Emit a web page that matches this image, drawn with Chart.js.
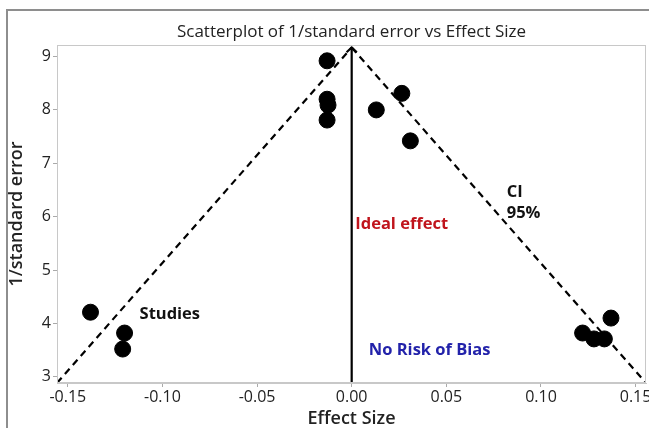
<!DOCTYPE html>
<html>
<head>
<meta charset="utf-8">
<script src="https://cdn.jsdelivr.net/npm/chart.js@4.4.1/dist/chart.umd.min.js"></script>
<style>
	html, body { margin: 0; padding: 0; background: #fff; overflow: hidden; }
	#wrap { position: relative; width: 649px; height: 428px; overflow: hidden; }
	#frame { position: absolute; left: 6px; top: 9px; width: 700px; height: 500px; border: 2px solid #8e8e8e; }
	#myChart { position: absolute; left: 0; top: 0; }
</style>
</head>
<body>
<div id="wrap">
	<div id="frame"></div>
	<!-- a little wider than the window: the last tick label runs off the edge, as in the original -->
	<canvas id="myChart" width="655" height="428"></canvas>
</div>
<script>
// studies (effect size, 1/standard error)
const effectSize = [-0.138, -0.120, -0.121, -0.013, -0.013, -0.0125, -0.013, 0.013, 0.0265, 0.031, 0.122, 0.128, 0.1335, 0.137];
const invSE      = [4.21, 3.82, 3.52, 8.92, 8.20, 8.09, 7.81, 8.00, 8.31, 7.42, 3.82, 3.71, 3.71, 4.10];

// funnel (95% CI) and ideal-effect line
const ciX = [-0.1557, 0, 0.1555];
const ciY = [2.884, 9.17, 2.884];
const arrowX = [-0.0027, 0, 0.0027];
const arrowY = [9.08, 9.17, 9.08];

const xTicks = [-0.15, -0.10, -0.05, 0.00, 0.05, 0.10, 0.15];
const yTicks = [3, 4, 5, 6, 7, 8, 9];

const chartTitle = "Scatterplot of 1/standard error vs Effect Size";

const notes = [
	{ text: "Studies", x: -0.0961, y: 4.17, color: "#111", align: "center" },
	{ text: "Ideal effect", x: 0.0264, y: 5.86, color: "#c0141c", align: "center" },
	{ text: "CI", x: 0.0819, y: 6.46, color: "#111", align: "left" },
	{ text: "95%", x: 0.0819, y: 6.07, color: "#111", align: "left" },
	{ text: "No Risk of Bias", x: 0.0412, y: 3.50, color: "#2222aa", align: "center" }
];

const FONT = "'Open Sans', 'Noto Sans', sans-serif";

const areaBorder = {
	id: "areaBorder",
	afterDatasetsDraw(chart) {
		const a = chart.chartArea, ctx = chart.ctx;
		ctx.save();
		ctx.strokeStyle = "#c8c8c8";
		ctx.lineWidth = 1;
		ctx.strokeRect(a.left + 0.5, a.top + 0.5, a.right - a.left - 1, a.bottom - a.top - 1);
		ctx.restore();
	}
};

// title centred over the plot area, plus the text notes
const labels = {
	id: "labels",
	afterDraw(chart) {
		const ctx = chart.ctx, xs = chart.scales.x, ys = chart.scales.y, a = chart.chartArea;
		ctx.save();
		ctx.textBaseline = "middle";
		ctx.textAlign = "center";
		ctx.fillStyle = "#222";
		ctx.font = "17px " + FONT;
		ctx.fillText(chartTitle, (a.left + a.right) / 2, a.top - 13);

		ctx.font = "bold 16.5px " + FONT;
		notes.forEach(n => {
			ctx.fillStyle = n.color;
			ctx.textAlign = n.align;
			ctx.fillText(n.text, xs.getPixelForValue(n.x), ys.getPixelForValue(n.y));
		});
		ctx.restore();
	}
};

function pts(xa, ya) {
	return xa.map((v, i) => ({ x: v, y: ya[i] }));
}

function lineSet(data, dash) {
	return {
		data: data,
		showLine: true,
		borderColor: "#000",
		borderWidth: 2.2,
		borderDash: dash,
		pointRadius: 0,
		fill: false
	};
}

const data = {
	datasets: [
		{
			label: "Studies",
			data: pts(effectSize, invSE),
			backgroundColor: "#000",
			borderColor: "#000",
			pointRadius: 8,
			pointHoverRadius: 8
		},
		lineSet(pts(ciX.slice(0, 2), ciY.slice(0, 2)), [7, 5]),
		lineSet(pts(ciX.slice(1), ciY.slice(1)), [7, 5]),
		lineSet([{ x: 0, y: ciY[0] }, { x: 0, y: ciY[1] }], []),
		lineSet(pts(arrowX, arrowY), [])
	]
};

const config = {
	type: "scatter",
	data: data,
	options: {
		responsive: false,
		animation: false,
		layout: { padding: { top: 45, right: 3 } },
		plugins: {
			legend: { display: false },
			tooltip: { enabled: false },
			title: { display: false }
		},
		scales: {
			x: {
				type: "linear",
				min: -0.1557,
				max: 0.1555,
				afterBuildTicks: s => { s.ticks = xTicks.map(v => ({ value: v })); },
				afterFit: s => { s.height = 45; },
				ticks: {
					color: "#222",
					font: { family: FONT, size: 16 },
					padding: 1,
					maxRotation: 0,
					callback: v => v.toFixed(2)
				},
				grid: { drawOnChartArea: false, tickLength: 4, color: "#aaa" },
				border: { color: "#c8c8c8" },
				title: {
					display: true,
					text: "Effect Size",
					color: "#222",
					font: { family: FONT, size: 18, weight: "600", lineHeight: 1 },
					padding: 0
				}
			},
			y: {
				type: "linear",
				min: 2.884,
				max: 9.216,
				afterBuildTicks: s => { s.ticks = yTicks.map(v => ({ value: v })); },
				afterFit: s => { s.width = 57; },
				ticks: {
					color: "#222",
					font: { family: FONT, size: 16 },
					padding: 2
				},
				grid: { drawOnChartArea: false, tickLength: 4, color: "#aaa" },
				border: { color: "#c8c8c8" },
				title: {
					display: true,
					text: "1/standard error",
					color: "#222",
					font: { family: FONT, size: 18, weight: "600", lineHeight: 1 },
					padding: { top: 8, bottom: 0 }
				}
			}
		}
	},
	plugins: [areaBorder, labels]
};

new Chart(document.getElementById("myChart").getContext("2d"), config);
</script>
</body>
</html>
